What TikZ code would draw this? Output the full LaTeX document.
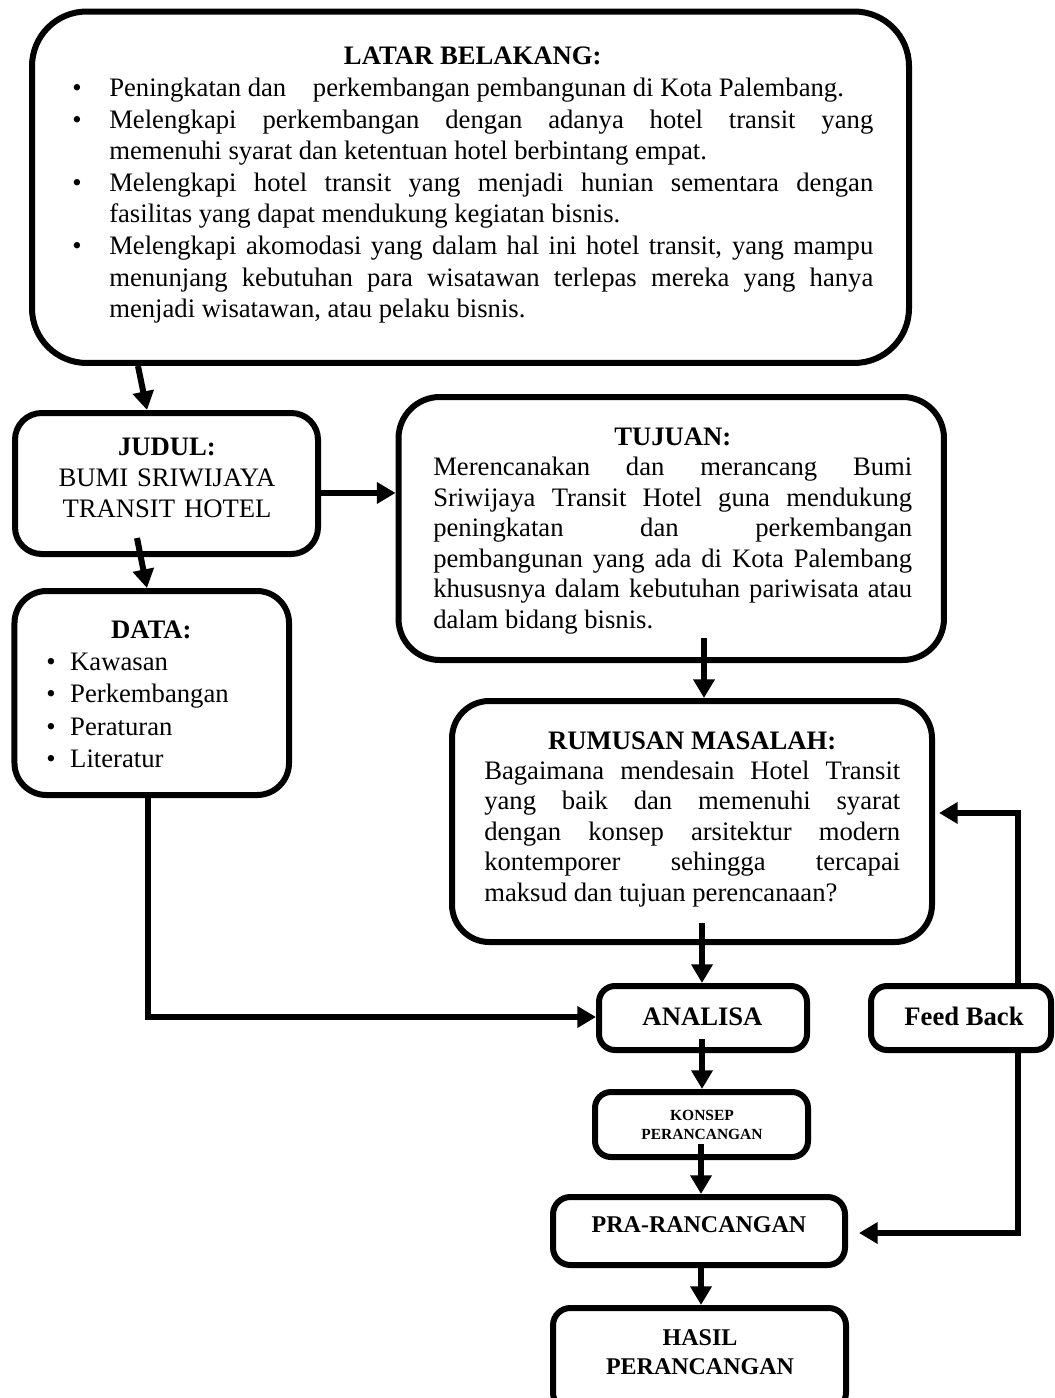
\documentclass[tikz,border=0pt]{standalone}
\usepackage{fontspec}
\setmainfont{Liberation Serif}
\usetikzlibrary{arrows.meta}
\tolerance=10000
\hbadness=10000
\hyphenpenalty=10000
\exhyphenpenalty=10000

\newcommand{\boxtitle}[1]{{\centering\bfseries #1\par}}
\newcommand{\bitem}[2]{\par\hangindent=#1\hangafter=1\noindent\hbox to #1{\textbullet\hfil}#2\par}

\begin{document}
\begin{tikzpicture}[x=0.75pt,y=-0.75pt,
    box/.style={draw,line width=4.5pt,inner sep=0pt},
    txt/.style={inner sep=0pt,align=justify},
    arr/.style={line width=4.5pt,-{Triangle[length=14pt,width=15.5pt]}}]
    \useasboundingbox (0,0) rectangle (1054,1398);

    % Boxes
    \node[box,minimum width=657.75pt,minimum height=263.6pt,rounded corners=41pt] (latar) at (470.5,187.25) {};
    \node[box,minimum width=227.25pt,minimum height=105.75pt,rounded corners=20pt] (judul) at (166.5,483.5) {};
    \node[box,minimum width=205.9pt,minimum height=153pt,rounded corners=24pt] (data) at (151.75,693) {};
    \node[box,minimum width=409.1pt,minimum height=197.25pt,rounded corners=31pt] (tujuan) at (671.25,528.5) {};
    \node[box,minimum width=360pt,minimum height=180.75pt,rounded corners=28pt] (rumusan) at (692,821.5) {};
    \node[box,minimum width=156pt,minimum height=48pt,rounded corners=12pt] (analisa) at (703,1018) {};
    \node[box,minimum width=135pt,minimum height=48pt,rounded corners=12pt] (feedback) at (961,1018) {};
    \node[box,minimum width=159.75pt,minimum height=48.75pt,rounded corners=12pt] (konsep) at (701.5,1124.5) {};
    \node[box,minimum width=219pt,minimum height=51pt,rounded corners=13pt] (pra) at (699,1231) {};
    \node[box,minimum width=219.75pt,minimum height=76.5pt,rounded corners=13pt] (hasil) at (699.5,1359) {};

    % Texts
    \node[txt,anchor=base west,text width=600.75pt,font=\fontsize{20pt}{23.7pt}\selectfont] (latarText) at (72,65) {%
        \boxtitle{LATAR BELAKANG:}%
        \bitem{27.75pt}{Peningkatan dan\hspace{20pt}perkembangan pembangunan di Kota Palembang.}%
        \bitem{27.75pt}{Melengkapi perkembangan dengan adanya hotel transit yang\linebreak memenuhi syarat dan ketentuan hotel berbintang empat.}%
        \bitem{27.75pt}{Melengkapi hotel transit yang menjadi hunian sementara dengan\linebreak fasilitas yang dapat mendukung kegiatan bisnis.}%
        \bitem{27.75pt}{Melengkapi akomodasi yang dalam hal ini hotel transit, yang mampu\linebreak menunjang kebutuhan para wisatawan terlepas mereka yang hanya\linebreak menjadi wisatawan, atau pelaku bisnis.}};
    \node[txt,anchor=base,text width=210pt,align=center,font=\fontsize{20pt}{23.6pt}\selectfont] (judulText) at (167,455)
        {\textbf{JUDUL:}\\BUMI SRIWIJAYA\\TRANSIT HOTEL};
    \node[txt,anchor=base west,text width=157.5pt,font=\fontsize{20pt}{24.3pt}\selectfont] (dataText) at (46,638) {%
        \boxtitle{DATA:}%
        \bitem{18pt}{Kawasan}\bitem{18pt}{Perkembangan}\bitem{18pt}{Peraturan}\bitem{18pt}{Literatur}};
    \node[txt,anchor=base west,text width=359.25pt,font=\fontsize{20pt}{22.9pt}\selectfont] (tujuanText) at (433,445) {%
        \boxtitle{TUJUAN:}%
        Merencanakan dan merancang Bumi\linebreak Sriwijaya Transit Hotel guna mendukung\linebreak peningkatan dan perkembangan\linebreak pembangunan yang ada di Kota Palembang\linebreak khususnya dalam kebutuhan pariwisata atau\linebreak dalam bidang bisnis.};
    \node[txt,anchor=base west,text width=312pt,font=\fontsize{20pt}{22.8pt}\selectfont] (rumusanText) at (484,749) {%
        \boxtitle{RUMUSAN MASALAH:}%
        Bagaimana mendesain Hotel Transit\linebreak yang baik dan memenuhi syarat\linebreak dengan konsep arsitektur modern\linebreak kontemporer sehingga tercapai\linebreak maksud dan tujuan perencanaan?};
    \node[txt,anchor=base,font=\fontsize{20pt}{24pt}\selectfont\bfseries] (analisaText) at (702.5,1025) {ANALISA};
    \node[txt,anchor=base,font=\fontsize{20pt}{24pt}\selectfont\bfseries] (feedbackText) at (964,1025) {Feed Back};
    \node[txt,anchor=base,text width=150pt,align=center,font=\fontsize{11.6pt}{14.25pt}\selectfont\bfseries] (konsepText) at (702,1120)
        {KONSEP\\PERANCANGAN};
    \node[txt,anchor=base,font=\fontsize{18pt}{21.75pt}\selectfont\bfseries] (praText) at (699,1232) {PRA-RANCANGAN};
    \node[txt,anchor=base,text width=200pt,align=center,font=\fontsize{18pt}{21.75pt}\selectfont\bfseries] (hasilText) at (700,1345)
        {HASIL\\PERANCANGAN};

    % Connectors
    \coordinate (j1) at (137,538);
    \coordinate (t1) at (704,638);
    \coordinate (r1) at (702,923);
    \coordinate (a1) at (702,1039);
    \coordinate (k1) at (701,1144);
    \coordinate (p1) at (701,1262);
    \draw[arr] ([xshift=-249.4pt]latar.south) -- ([xshift=-14.6pt]judul.north);
    \draw[arr] (j1) -- ([xshift=-3.6pt]data.north);
    \draw[arr] ([yshift=-7.1pt]judul.east) coordinate (j3) -- (j3 -| tujuan.west);
    \draw[arr] (t1) -- (t1 |- rumusan.north);
    \draw[arr] (r1) -- (r1 |- analisa.north);
    \draw[arr] ([xshift=-2.8pt]data.south) |- ([yshift=0.75pt]analisa.west);
    \draw[arr] (a1) -- (a1 |- konsep.north);
    \draw[arr] (k1) -- (k1 |- pra.north);
    \draw[arr] (p1) -- (p1 |- hasil.north);
    \draw[arr] ([xshift=42.75pt]feedback.north) |- ([xshift=3pt,yshift=6.4pt]rumusan.east);
    \draw[arr] ([xshift=42.75pt]feedback.south) |- ([xshift=8.25pt,yshift=-1.5pt]pra.east);
\end{tikzpicture}
\end{document}
